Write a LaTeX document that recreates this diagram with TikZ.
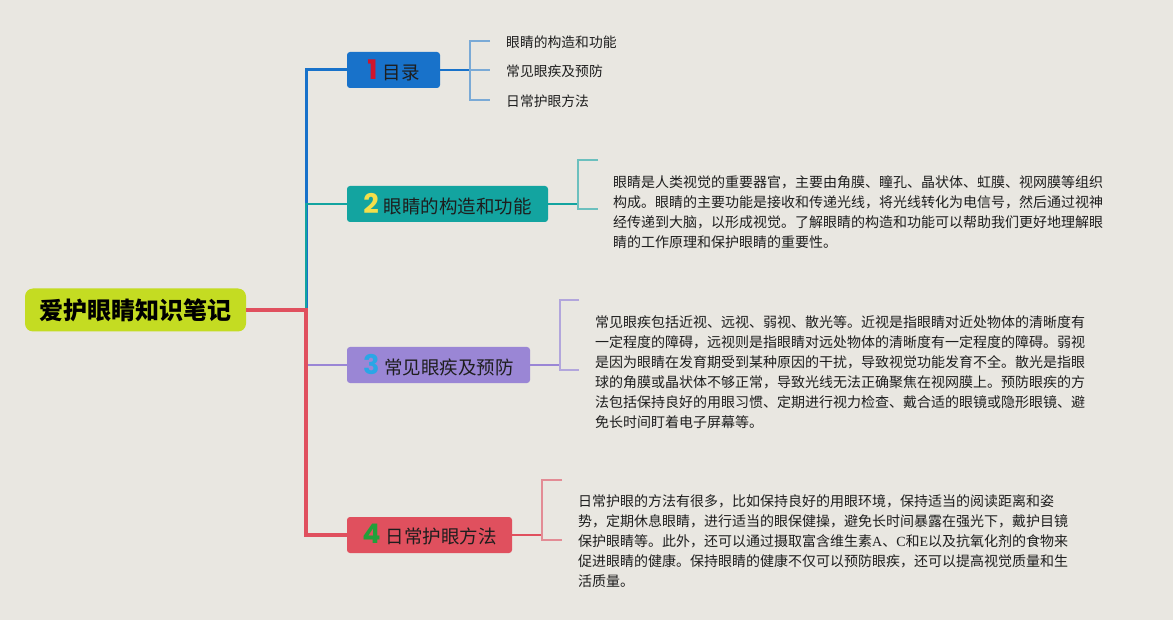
\documentclass[tikz,border=0pt]{standalone}
\usepackage{fontspec}
\setmainfont{Noto Sans CJK SC}
\newfontfamily\numf{Poppins}
\newfontfamily\lat{Liberation Serif}
\definecolor{bg}{HTML}{E9E7E1}
\definecolor{rootc}{HTML}{C4DC22}
\definecolor{cblue}{HTML}{1872CA}
\definecolor{cteal}{HTML}{13A4A0}
\definecolor{cpurp}{HTML}{9A86D5}
\definecolor{cred}{HTML}{E0505E}
\definecolor{lblue}{HTML}{7AAAD6}
\definecolor{lteal}{HTML}{6CC0BE}
\definecolor{lpurp}{HTML}{B2A6DC}
\definecolor{lred}{HTML}{E38C95}
\definecolor{dred}{HTML}{D0152C}
\definecolor{dyel}{HTML}{F3DF4B}
\definecolor{dcyan}{HTML}{2AA6E6}
\definecolor{dgreen}{HTML}{22A03A}
\definecolor{txt}{HTML}{1E1E1E}
\tikzset{
  mainbox/.style={rounded corners=3pt, minimum height=36pt, inner sep=0pt, text=txt, font=\fontsize{18.5}{22}\selectfont},
  sub/.style={anchor=west, inner sep=0pt, text=txt, font=\fontsize{13.8}{16}\selectfont},
  para/.style={anchor=west, inner sep=0pt, text=txt, align=left, font=\fontsize{14}{20}\selectfont},
  brk/.style={line width=1.2pt}
}
\newcommand{\dg}[2]{{\numf\bfseries\fontsize{27}{27}\selectfont\color{#1}#2}\hspace{5pt}}
\begin{document}
\begin{tikzpicture}[x=1pt,y=-1pt]
\fill[bg] (0,0) rectangle (1173,620);
\useasboundingbox (0,0) rectangle (1173,620);

% root
\node[fill=rootc, rounded corners=8pt, minimum width=221pt, minimum height=43pt, inner sep=0pt,
  font=\fontsize{24}{28}\selectfont\bfseries, text=black] (r) at (135.5,310) {爱护眼睛知识笔记};

% main nodes
\node[mainbox, fill=cblue, minimum width=93pt] (n1) at (393.5,70) {\dg{dred}{1}目录};
\node[mainbox, fill=cteal, minimum width=201pt] (n2) at (447.5,204) {\dg{dyel}{2}眼睛的构造和功能};
\node[mainbox, fill=cpurp, minimum width=183pt] (n3) at (438.5,365) {\dg{dcyan}{3}常见眼疾及预防};
\node[mainbox, fill=cred, minimum width=165pt] (n4) at (429.5,535) {\dg{dgreen}{4}日常护眼方法};

\coordinate (j) at (306,310);

% branches
\draw[cblue, line width=3pt] (r.east) -- (j) |- (n1.west);
\draw[cteal, line width=2.5pt] (j) |- (n2.west);
\draw[cpurp, line width=2.5pt] (j) |- (n3.west);
\draw[cred, line width=4.5pt] (r.east) -- (j) |- (n4.west);

% branch 1 subtopics
\node[sub] (s1) at (506,42) {眼睛的构造和功能};
\node[sub] (s2) at (506,71) {常见眼疾及预防};
\node[sub] (s3) at (506,101) {日常护眼方法};
\coordinate (b1) at (470,70);
\coordinate (b1t) at (470,41);
\coordinate (b1b) at (470,100);
\coordinate (e1) at (490,41);
\coordinate (e2) at (490,70);
\coordinate (e3) at (490,100);
\draw[cblue, line width=2pt] (n1.east) -- (b1);
\draw[lblue, brk] (e1) -- (b1t) -- (b1b) -- (e3);
\draw[lblue, brk] (b1) -- (e2);

% branch 2
\node[para] (p2) at (613,212) {眼睛是人类视觉的重要器官，主要由角膜、瞳孔、晶状体、虹膜、视网膜等组织\\
构成。眼睛的主要功能是接收和传递光线，将光线转化为电信号，然后通过视神\\
经传递到大脑，以形成视觉。了解眼睛的构造和功能可以帮助我们更好地理解眼\\
睛的工作原理和保护眼睛的重要性。};
\coordinate (b2) at (578,204);
\coordinate (b2t) at (578,160);
\coordinate (b2b) at (578,209);
\coordinate (f1) at (598,160);
\coordinate (f2) at (598,209);
\draw[cteal, line width=1.5pt] (n2.east) -- (b2);
\draw[lteal, brk] (f1) -- (b2t) -- (b2b) -- (f2);

% branch 3
\node[para] (p3) at (595,372) {常见眼疾包括近视、远视、弱视、散光等。近视是指眼睛对近处物体的清晰度有\\
一定程度的障碍，远视则是指眼睛对远处物体的清晰度有一定程度的障碍。弱视\\
是因为眼睛在发育期受到某种原因的干扰，导致视觉功能发育不全。散光是指眼\\
球的角膜或晶状体不够正常，导致光线无法正确聚焦在视网膜上。预防眼疾的方\\
法包括保持良好的用眼习惯、定期进行视力检查、戴合适的眼镜或隐形眼镜、避\\
免长时间盯着电子屏幕等。};
\coordinate (b3) at (560,365);
\coordinate (b3t) at (560,300);
\coordinate (b3b) at (560,370);
\coordinate (g1) at (579,300);
\coordinate (g2) at (579,370);
\draw[cpurp, line width=1.5pt] (n3.east) -- (b3);
\draw[lpurp, brk] (g1) -- (b3t) -- (b3b) -- (g2);

% branch 4
\node[para] (p4) at (578,541) {日常护眼的方法有很多，比如保持良好的用眼环境，保持适当的阅读距离和姿\\
势，定期休息眼睛，进行适当的眼保健操，避免长时间暴露在强光下，戴护目镜\\
保护眼睛等。此外，还可以通过摄取富含维生素{\lat A}、{\lat C}和{\lat E}以及抗氧化剂的食物来\\
促进眼睛的健康。保持眼睛的健康不仅可以预防眼疾，还可以提高视觉质量和生\\
活质量。};
\coordinate (b4) at (542,535);
\coordinate (b4t) at (542,480);
\coordinate (b4b) at (542,540);
\coordinate (h1) at (562,480);
\coordinate (h2) at (562,540);
\draw[cred, line width=1.5pt] (n4.east) -- (b4);
\draw[lred, brk] (h1) -- (b4t) -- (b4b) -- (h2);
\end{tikzpicture}
\end{document}
